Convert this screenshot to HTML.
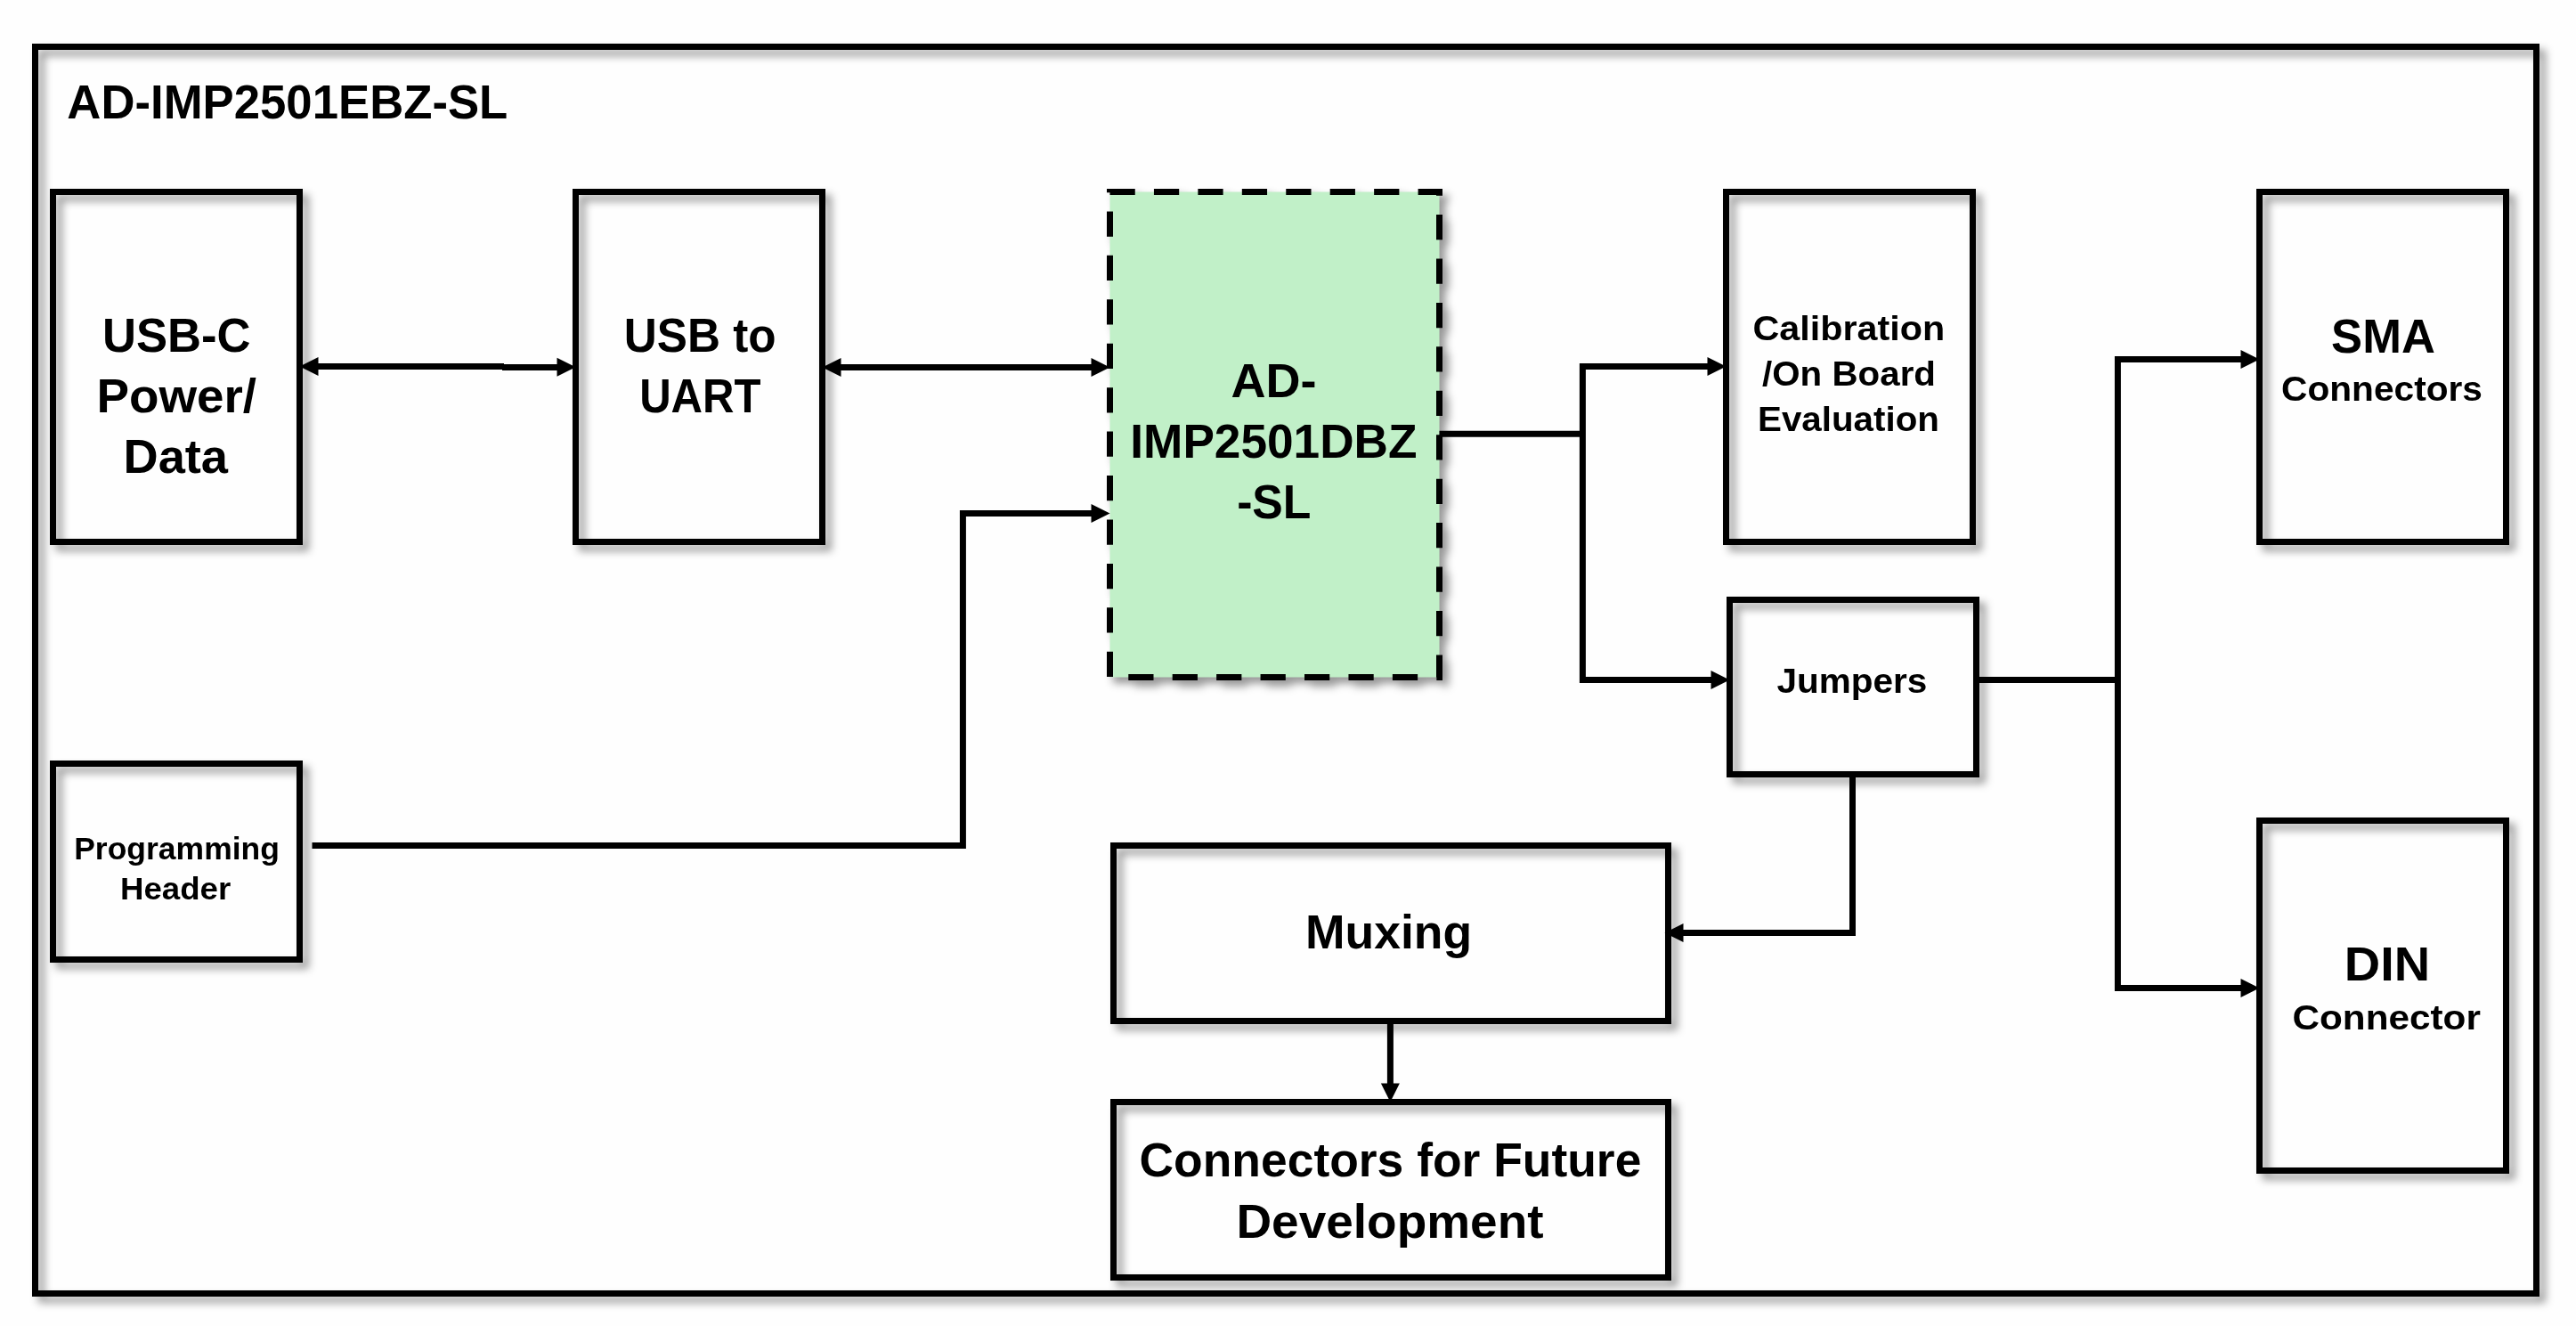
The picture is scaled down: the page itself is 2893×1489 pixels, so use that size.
<!DOCTYPE html>
<html lang="en"><head><meta charset="utf-8"><title>AD-IMP2501EBZ-SL block diagram</title>
<style>html,body{margin:0;padding:0;background:#fff;}body{width:2893px;height:1489px;overflow:hidden;}svg{display:block;}text{font-family:"Liberation Sans",sans-serif;font-weight:bold;fill:#000;}</style></head><body>
<svg width="2893" height="1489" viewBox="0 0 2893 1489">
<defs><filter id="sh" x="-2%" y="-2%" width="104%" height="104%" filterUnits="objectBoundingBox" color-interpolation-filters="sRGB"><feDropShadow dx="6.8" dy="6.8" stdDeviation="5" flood-color="#000" flood-opacity="0.4"/></filter></defs>
<rect width="2893" height="1489" fill="#fefefe"/>
<g filter="url(#sh)" fill="none" stroke="#000" stroke-width="7" stroke-linejoin="miter">
<rect x="39.5" y="52.5" width="2809" height="1400"/>
<rect x="59.5" y="215.5" width="277" height="393"/>
<rect x="646.5" y="215.5" width="277" height="393"/>
<rect x="1938.5" y="215.5" width="277" height="393"/>
<rect x="2537.5" y="215.5" width="277" height="393"/>
<rect x="1942.5" y="673.5" width="277" height="196"/>
<rect x="59.5" y="857.5" width="277" height="220"/>
<rect x="1250.5" y="949.5" width="623" height="197"/>
<rect x="1250.5" y="1237.5" width="623" height="197"/>
<rect x="2537.5" y="921.5" width="277" height="393"/>
<path d="M1246.5,215.5 H1616.5 V760.5 H1246.5 Z" fill="#C1F0C8" stroke-dasharray="28.25 21.19"/>
<rect x="1243" y="212" width="3.5" height="3.5" fill="#000" stroke="none"/>
</g>
<g fill="none" stroke="#000" stroke-width="7" stroke-linejoin="miter" stroke-linecap="butt">
<path d="M350,411.5 H566"/><path d="M564,412.5 H632"/>
<path d="M938,412.5 H1232"/>
<path d="M350.5,949.5 H1081.4 V576.5 H1232"/>
<path d="M1616.5,487.25 H1777.4"/>
<path d="M1925,411.5 H1777.4 V763.5 H1928"/>
<path d="M2219.5,763.5 H2378.4"/>
<path d="M2524,403.5 H2378.4 V1109.5 H2524"/>
<path d="M2080.5,869.5 V1047.5 H1884"/>
<path d="M1561.4,1146.5 V1224"/>
</g>
<g fill="#000" stroke="none">
<polygon points="336.5,411.5 357.5,401.0 357.5,422.0"/>
<polygon points="646.5,412.25 625.5,422.75 625.5,401.75"/>
<polygon points="923.5,412.5 944.5,402.0 944.5,423.0"/>
<polygon points="1246.5,412.5 1225.5,423.0 1225.5,402.0"/>
<polygon points="1246.5,576.5 1225.5,587.0 1225.5,566.0"/>
<polygon points="1938.5,411.5 1917.5,422.0 1917.5,401.0"/>
<polygon points="1942.5,763.5 1921.5,774.0 1921.5,753.0"/>
<polygon points="2537.5,403.5 2516.5,414.0 2516.5,393.0"/>
<polygon points="2537.5,1109.5 2516.5,1120.0 2516.5,1099.0"/>
<polygon points="1869.5,1047.5 1890.5,1037.0 1890.5,1058.0"/>
<polygon points="1561.4,1237.5 1550.9,1216.5 1571.9,1216.5"/>
</g>
<g opacity="0.999">
<text x="75.34" y="133.00" font-size="53.05" textLength="494.98" lengthAdjust="spacingAndGlyphs">AD-IMP2501EBZ-SL</text>
<text x="114.92" y="395.00" font-size="53.05" textLength="166.72" lengthAdjust="spacingAndGlyphs">USB-C</text>
<text x="108.43" y="463.25" font-size="53.05" textLength="179.68" lengthAdjust="spacingAndGlyphs">Power/</text>
<text x="138.51" y="531.25" font-size="53.05" textLength="117.52" lengthAdjust="spacingAndGlyphs">Data</text>
<text x="700.84" y="395.00" font-size="53.05" textLength="170.77" lengthAdjust="spacingAndGlyphs">USB to</text>
<text x="718.16" y="463.00" font-size="53.05" textLength="136.36" lengthAdjust="spacingAndGlyphs">UART</text>
<text x="1382.50" y="446.25" font-size="53.05" textLength="96.02" lengthAdjust="spacingAndGlyphs">AD-</text>
<text x="1269.33" y="513.75" font-size="53.05" textLength="322.14" lengthAdjust="spacingAndGlyphs">IMP2501DBZ</text>
<text x="1389.13" y="582.00" font-size="53.05" textLength="83.34" lengthAdjust="spacingAndGlyphs">-SL</text>
<text x="1968.49" y="382.00" font-size="39.60" textLength="215.87" lengthAdjust="spacingAndGlyphs">Calibration</text>
<text x="1979.04" y="433.25" font-size="39.60" textLength="194.95" lengthAdjust="spacingAndGlyphs">/On Board</text>
<text x="1973.99" y="484.25" font-size="39.60" textLength="203.98" lengthAdjust="spacingAndGlyphs">Evaluation</text>
<text x="2618.11" y="395.50" font-size="53.05" textLength="116.79" lengthAdjust="spacingAndGlyphs">SMA</text>
<text x="2562.03" y="450.00" font-size="39.60" textLength="225.97" lengthAdjust="spacingAndGlyphs">Connectors</text>
<text x="1995.40" y="778.00" font-size="39.60" textLength="168.96" lengthAdjust="spacingAndGlyphs">Jumpers</text>
<text x="83.20" y="964.50" font-size="34.50" textLength="230.73" lengthAdjust="spacingAndGlyphs">Programming</text>
<text x="135.08" y="1010.00" font-size="34.50" textLength="124.13" lengthAdjust="spacingAndGlyphs">Header</text>
<text x="1466.04" y="1065.00" font-size="53.05" textLength="187.09" lengthAdjust="spacingAndGlyphs">Muxing</text>
<text x="1279.54" y="1321.25" font-size="53.05" textLength="563.81" lengthAdjust="spacingAndGlyphs">Connectors for Future</text>
<text x="1388.41" y="1389.50" font-size="53.05" textLength="345.16" lengthAdjust="spacingAndGlyphs">Development</text>
<text x="2632.79" y="1100.50" font-size="53.05" textLength="96.34" lengthAdjust="spacingAndGlyphs">DIN</text>
<text x="2574.49" y="1155.75" font-size="39.60" textLength="211.43" lengthAdjust="spacingAndGlyphs">Connector</text>
</g>
</svg></body></html>
